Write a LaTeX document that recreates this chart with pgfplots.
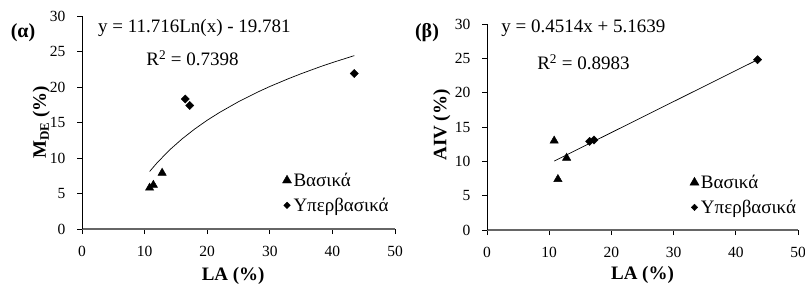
\documentclass[border=0pt]{standalone}
\usepackage{pgfplots}
\pgfplotsset{compat=1.18}
\usepackage{fontspec}
\setmainfont{Liberation Serif}
\newcommand{\tickfont}{\fontsize{15.5}{17}\selectfont}
\newcommand{\eqfont}{\fontsize{19}{21}\selectfont}
\newcommand{\legfont}{\fontsize{19}{21}\selectfont}
\newcommand{\labfont}{\fontsize{19}{21}\selectfont\bfseries}
\pgfplotsset{
  mystyle/.style={
    scale only axis, clip=false,
    xmin=0, xmax=50, ymin=0, ymax=30,
    xtick={0,10,...,50}, ytick={0,5,...,30},
    axis x line=bottom, axis y line=left,
    axis line style={-},
    x axis line style={draw=black!60, line width=1.6pt},
    y axis line style={draw=black, line width=0.9pt},
    tick align=outside,
    major tick length=5pt,
    tick style={black, line width=0.8pt},
    /pgf/number format/assume math mode=true,
    tick label style={font=\tickfont},
    xticklabel style={yshift=-9pt},
    yticklabel style={xshift=-8pt},
    label style={font=\labfont},
    legend cell align=left,
    legend image code/.code={\draw[mark repeat=2,mark phase=2,#1] plot coordinates {(0pt,0pt)(5pt,0pt)(10pt,0pt)};},
  },
  tri/.style={only marks, mark=triangle*, mark size=4.8pt, black, mark options={fill=black}},
  dia/.style={only marks, mark=square*, mark size=2.9pt, black, mark options={fill=black, rotate=45}},
  ltri/.style={only marks, mark=triangle*, mark size=5.2pt, black, mark options={fill=black}},
  ldia/.style={only marks, mark=square*, mark size=2.3pt, black, mark options={fill=black, rotate=45}},
}
\begin{document}
\begin{tikzpicture}[x=1pt,y=1pt]
\begin{axis}[mystyle,
  at={(82pt,56pt)}, anchor=south west,
  width=313pt, height=213pt,
  xlabel={LA (\%)},
  ylabel={M\raisebox{-0.35ex}{\fontsize{13}{13}\selectfont DE} (\%)},
  xlabel style={at={(axis description cs:0.483,-0.218)}, anchor=center},
  ylabel style={at={(axis description cs:-0.13,0.50)}, anchor=center},
  legend style={at={(0.64,0.066)}, anchor=south west, draw=none, fill=none, font=\legfont, row sep=6pt, inner sep=0pt},
]
\addlegendimage{ltri}
\addlegendentry{Βασικά}
\addlegendimage{ldia}
\addlegendentry{Υπερβασικά}
\addplot[tri, forget plot] coordinates {(10.8,5.8) (11.4,6.2) (12.8,7.9)};
\addplot[dia, forget plot] coordinates {(16.5,18.3) (17.2,17.4) (43.5,21.9)};
\addplot[black, line width=0.7pt, forget plot] coordinates {
(10.8,8.10) (12,9.33) (14,11.14) (16,12.70) (18,14.08) (20,15.32) (22,16.43) (25,17.93) (28,19.26) (30,20.07) (33,21.18) (35,21.87) (38,22.84) (40,23.44) (43.5,24.42)};
\node[font=\eqfont] at (rel axis cs:0.359,0.944) {y = 11.716Ln(x) - 19.781};
\node[font=\eqfont] at (rel axis cs:0.353,0.803) {R\textsuperscript{2} = 0.7398};
\end{axis}
\begin{axis}[mystyle,
  at={(487pt,55pt)}, anchor=south west,
  width=311pt, height=206pt,
  xlabel={LA (\%)},
  ylabel={AIV (\%)},
  xlabel style={at={(axis description cs:0.50,-0.22)}, anchor=center},
  ylabel style={at={(axis description cs:-0.145,0.51)}, anchor=center},
  legend style={at={(0.652,0.063)}, anchor=south west, draw=none, fill=none, font=\legfont, row sep=6pt, inner sep=0pt},
]
\addlegendimage{ltri}
\addlegendentry{Βασικά}
\addlegendimage{ldia}
\addlegendentry{Υπερβασικά}
\addplot[tri, forget plot] coordinates {(10.8,13.0) (11.4,7.4) (12.8,10.5)};
\addplot[dia, forget plot] coordinates {(16.5,12.9) (17.2,13.1) (43.5,24.8)};
\addplot[black, line width=0.7pt, forget plot] coordinates {(10.8,10.04) (43.5,24.80)};
\node[font=\eqfont] at (rel axis cs:0.31,0.98) {y = 0.4514x + 5.1639};
\node[font=\eqfont] at (rel axis cs:0.31,0.816) {R\textsuperscript{2} = 0.8983};
\end{axis}
\node[font=\labfont\fontsize{20}{22}\selectfont] at (23pt,252pt) {(α)};
\node[font=\labfont\fontsize{20}{22}\selectfont] at (427pt,252pt) {(β)};
\pgfresetboundingbox
\useasboundingbox (0pt,0pt) rectangle (805pt,285pt);
\end{tikzpicture}
\end{document}
